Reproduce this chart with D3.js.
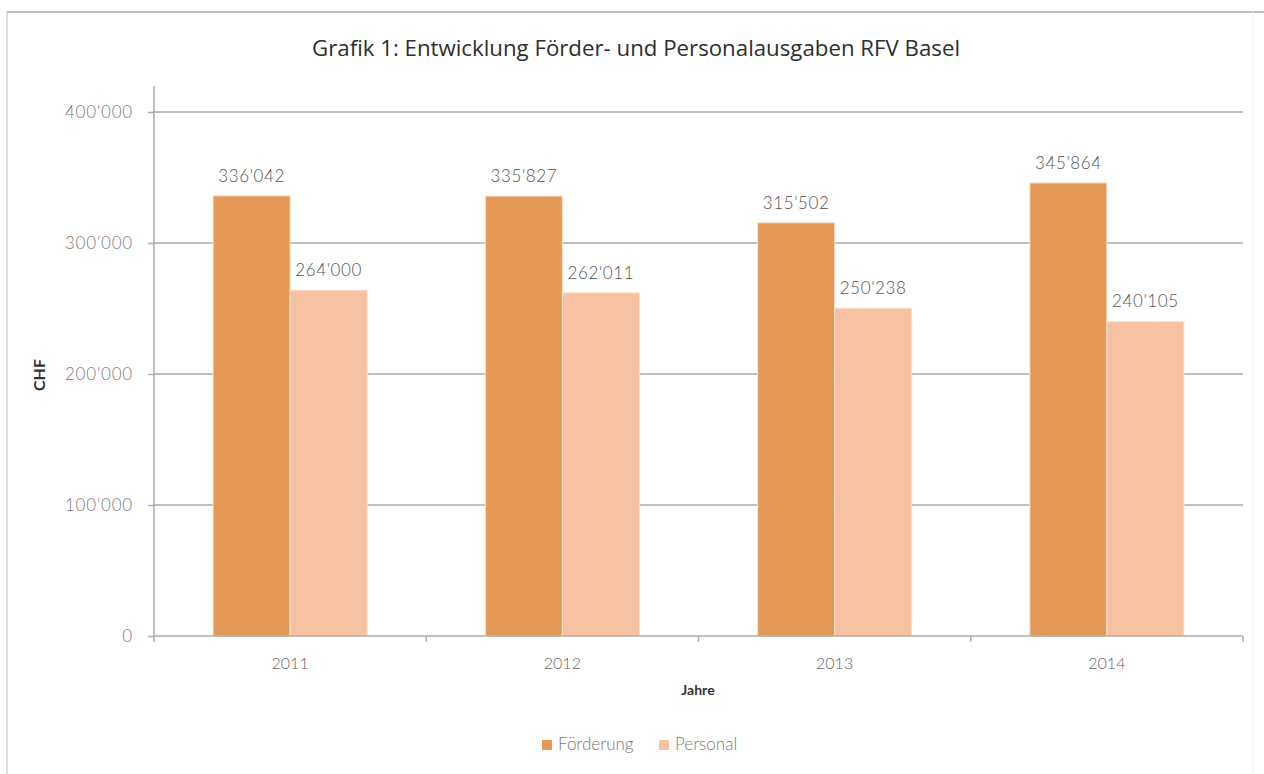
<!DOCTYPE html>
<html><head><meta charset="utf-8">
<script src="https://cdn.jsdelivr.net/npm/d3@7"></script>
<style>body{margin:0;background:#fff;} svg{display:block;}</style>
</head><body>
<script>
const years = ["2011","2012","2013","2014"];
const seriesNames = ["Förderung","Personal"];
const foerderung = [336042, 335827, 315502, 345864];
const personal = [264000, 262011, 250238, 240105];
const yTicks = [0, 100000, 200000, 300000, 400000];
const colors = ["#E49A56", "#F6C2A2"];

(function(){
const W = 1264, H = 774;
const svg = d3.select("body").append("svg").attr("width", W).attr("height", H);
const font = "Lato, 'Open Sans', sans-serif";

// frame
svg.append("line").attr("x1",7).attr("x2",W).attr("y1",12).attr("y2",12).attr("stroke","#bdbdbd").attr("stroke-width",2);
svg.append("line").attr("x1",7).attr("x2",7).attr("y1",12).attr("y2",H).attr("stroke","#d0d0d0").attr("stroke-width",1.5);
svg.append("line").attr("x1",1253).attr("x2",1253).attr("y1",12).attr("y2",H).attr("stroke","#f0f0f0").attr("stroke-width",1);

const pL = 154, pR = 1243, pT = 112, pB = 636;
const x0 = d3.scaleBand().domain(years).range([pL, pR]).paddingInner(0.434).paddingOuter(0.217);
const x1 = d3.scaleBand().domain(seriesNames).range([0, x0.bandwidth()]);
const y = d3.scaleLinear().domain([0, 400000]).range([pB, pT]);
const loc = d3.formatLocale({decimal: ".", thousands: "'", grouping: [3], currency: ["", ""]});
const fmt = loc.format(",d");

// gridlines
svg.append("g").selectAll("line").data(yTicks.slice(1)).join("line")
  .attr("x1", pL).attr("x2", pR).attr("y1", d => y(d)).attr("y2", d => y(d))
  .attr("stroke", "#ababab").attr("stroke-width", 1.5);

// y axis
const yAxis = svg.append("g").attr("transform", `translate(${pL},0)`)
  .call(d3.axisLeft(y).tickValues(yTicks).tickSize(6).tickPadding(15).tickFormat(fmt));
yAxis.select(".domain").attr("stroke", "#ababab").attr("stroke-width", 1.5).attr("d", `M0,${pT - 26}V${pB}`);
yAxis.selectAll(".tick line").attr("stroke", "#ababab").attr("stroke-width", 1.5);
yAxis.selectAll(".tick text").attr("font-family", font).attr("font-weight", 300).attr("font-size", 17)
  .attr("letter-spacing", 0.8).attr("fill", "#7a7a7a");

// bars
const data = years.map((yr, i) => ({year: yr, vals: [foerderung[i], personal[i]]}));
const groups = svg.append("g").selectAll("g").data(data).join("g")
  .attr("transform", d => `translate(${x0(d.year)},0)`);
groups.selectAll("rect").data(d => d.vals.map((v, j) => ({name: seriesNames[j], v, j}))).join("rect")
  .attr("x", d => x1(d.name)).attr("width", x1.bandwidth())
  .attr("y", d => y(d.v)).attr("height", d => y(0) - y(d.v))
  .attr("fill", d => colors[d.j]).attr("stroke", "#fbe3cf").attr("stroke-width", 1);
groups.selectAll("text").data(d => d.vals.map((v, j) => ({name: seriesNames[j], v, j}))).join("text")
  .attr("x", d => x1(d.name) + x1.bandwidth() / 2).attr("y", d => y(d.v) - 14)
  .attr("text-anchor", "middle").attr("font-family", font).attr("font-weight", 300)
  .attr("font-size", 17).attr("letter-spacing", 0.6).attr("fill", "#555").text(d => fmt(d.v));

// x axis
const xEdges = d3.scaleLinear().domain([0, years.length]).range([pL, pR]);
const xAxis = svg.append("g").attr("transform", `translate(0,${pB})`);
xAxis.append("line").attr("x1", pL).attr("x2", pR).attr("stroke", "#ababab").attr("stroke-width", 1.5);
xAxis.selectAll(".edge").data(d3.range(years.length + 1)).join("line").attr("class","edge")
  .attr("x1", d => xEdges(d)).attr("x2", d => xEdges(d)).attr("y1", 0).attr("y2", 6)
  .attr("stroke", "#ababab").attr("stroke-width", 1.5);
xAxis.selectAll("text").data(years).join("text")
  .attr("x", d => x0(d) + x0.bandwidth() / 2).attr("y", 33)
  .attr("text-anchor", "middle").attr("font-family", font).attr("font-weight", 300)
  .attr("font-size", 16).attr("fill", "#666").text(d => d);

// titles
svg.append("text").attr("x", 636).attr("y", 56).attr("text-anchor", "middle")
  .attr("font-family", "'Open Sans', Lato, sans-serif").attr("font-size", 22).attr("fill", "#2e2e2e")
  .attr("textLength", 648).attr("lengthAdjust", "spacingAndGlyphs")
  .text("Grafik 1: Entwicklung Förder- und Personalausgaben RFV Basel");
svg.append("text").attr("x", 698).attr("y", 695).attr("text-anchor", "middle")
  .attr("font-family", font).attr("font-weight", 700).attr("font-size", 14).attr("fill", "#333").text("Jahre");
svg.append("text").attr("transform", "translate(45,375) rotate(-90)").attr("text-anchor", "middle")
  .attr("font-family", font).attr("font-weight", 700).attr("font-size", 16).attr("fill", "#333").text("CHF");

// legend
const legX = [542, 659];
const leg = svg.append("g").selectAll("g").data(seriesNames).join("g")
  .attr("transform", (d, i) => `translate(${legX[i]},740)`);
leg.append("rect").attr("width", 10).attr("height", 10).attr("fill", (d, i) => colors[i]);
leg.append("text").attr("x", 16).attr("y", 10).attr("font-family", font).attr("font-weight", 300)
  .attr("font-size", 17).attr("fill", "#777").text(d => d);
})();
</script>
</body></html>
